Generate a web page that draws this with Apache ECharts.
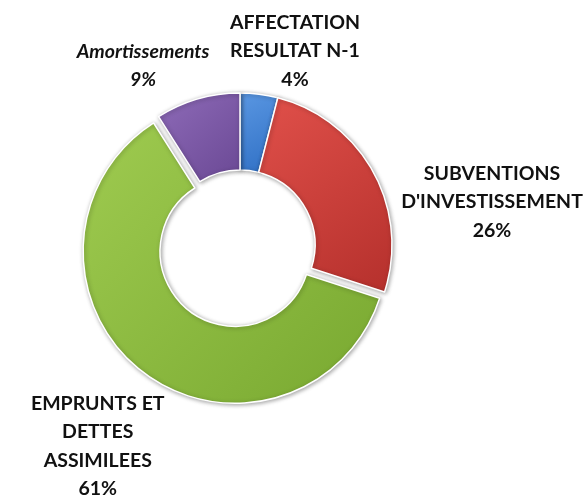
<!DOCTYPE html>
<html>
<head>
<meta charset="utf-8">
<script src="https://cdn.jsdelivr.net/npm/echarts@6/dist/echarts.min.js"></script>
<style>
html,body{margin:0;padding:0;background:#fff;}
#chart{width:587px;height:502px;}
</style>
</head>
<body>
<div id="chart"></div>
<script>
// Data
var categories = ['AFFECTATION\nRESULTAT N-1', "SUBVENTIONS\nD'INVESTISSEMENT", 'EMPRUNTS ET\nDETTES\nASSIMILEES', 'Amortissements'];
var values = [4, 26, 61, 9];
var explodedFlags = [false, false, true, false];

// Styles
var colors = [
  ['#5a97e2', '#2f6fc4'],
  ['#e0504a', '#b5302c'],
  ['#9fcb50', '#78a830'],
  ['#8e6bb8', '#6a4894']
];
var labelTop = [
  {x: 295, y: 8, dy: 0},
  {x: 492, y: 159, dy: 0},
  {x: 84, y: 388, dy: 6},
  {x: 143, y: 37, dy: 0}
];

var chart = echarts.init(document.getElementById('chart'), null, {renderer: 'canvas'});

var data = categories.map(function (c, i) {
  var item = {
    name: c,
    value: values[i],
    selected: explodedFlags[i],
    itemStyle: {
      color: {
        type: 'linear', x: 0, y: 0, x2: 1, y2: 1,
        colorStops: [{offset: 0, color: colors[i][0]}, {offset: 1, color: colors[i][1]}]
      }
    }
  };
  if (c === 'Amortissements') {
    item.label = {fontStyle: 'italic'};
  }
  return item;
});

chart.setOption({
  backgroundColor: '#ffffff',
  animation: false,
  series: [{
    type: 'pie',
    center: [240, 245],
    radius: [75, 152],
    startAngle: 90,
    clockwise: true,
    selectedMode: 'multiple',
    selectedOffset: 8,
    avoidLabelOverlap: false,
    itemStyle: {
      borderColor: '#ffffff',
      borderWidth: 1.5,
      shadowBlur: 4,
      shadowColor: 'rgba(0,0,0,0.35)',
      shadowOffsetX: 1,
      shadowOffsetY: 1
    },
    emphasis: {disabled: true},
    label: {
      show: true,
      position: 'outside',
      formatter: '{b}\n{d}%',
      fontFamily: 'Lato',
      fontWeight: 'bold',
      fontSize: 19.5,
      lineHeight: 28.5,
      color: '#111111',
      align: 'center'
    },
    labelLine: {show: false},
    labelLayout: function (params) {
      var p = labelTop[params.dataIndex];
      return {x: p.x, y: p.y, dy: p.dy, align: 'center', verticalAlign: 'top'};
    },
    data: data
  }]
});
</script>
</body>
</html>
